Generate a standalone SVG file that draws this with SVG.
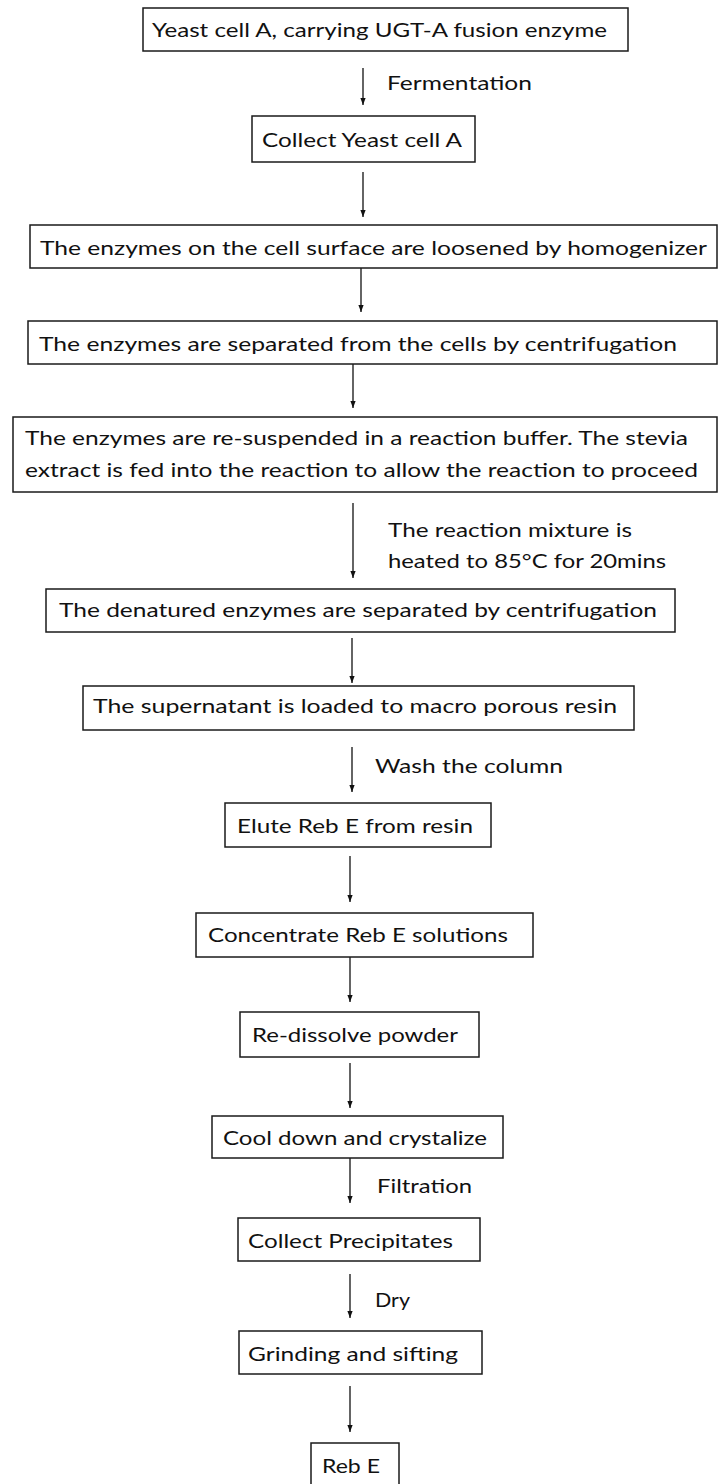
<svg xmlns="http://www.w3.org/2000/svg" width="719" height="1484" viewBox="0 0 719 1484">
<style>
.box{fill:#fff;stroke:#1a1a1a;stroke-width:1.5}
.t{font-family:Lato,"Open Sans",sans-serif;font-size:20px;fill:#111}
.c{stroke:#111;stroke-width:1.3;fill:none;marker-end:url(#ah)}
</style>
<defs>
<marker id="ah" markerUnits="userSpaceOnUse" markerWidth="8" markerHeight="8" viewBox="0 0 8 8" refX="7" refY="4" orient="auto">
<path d="M0,1.4 L7,4 L0,6.6 Z" fill="#111"/>
</marker>
</defs>
<rect width="719" height="1484" fill="#fff"/>
<g id="connectors">
<line class="c" x1="363" y1="68" x2="363" y2="105"/>
<line class="c" x1="363" y1="172" x2="363" y2="217"/>
<line class="c" x1="361" y1="268" x2="361" y2="312"/>
<line class="c" x1="353" y1="364" x2="353" y2="408"/>
<line class="c" x1="353" y1="503" x2="353" y2="578"/>
<line class="c" x1="352" y1="638" x2="352" y2="683"/>
<line class="c" x1="352" y1="747" x2="352" y2="792"/>
<line class="c" x1="350" y1="856" x2="350" y2="902"/>
<line class="c" x1="350" y1="957" x2="350" y2="1002"/>
<line class="c" x1="350" y1="1063" x2="350" y2="1108"/>
<line class="c" x1="350" y1="1158" x2="350" y2="1203"/>
<line class="c" x1="350" y1="1274" x2="350" y2="1318"/>
<line class="c" x1="350" y1="1386" x2="350" y2="1432"/>
<text class="t" x="387" y="90" textLength="145" lengthAdjust="spacingAndGlyphs">Fermentation</text>
<text class="t" x="388" y="537" textLength="244" lengthAdjust="spacingAndGlyphs">The reaction mixture is</text>
<text class="t" x="388" y="568" textLength="278" lengthAdjust="spacingAndGlyphs">heated to 85°C for 20mins</text>
<text class="t" x="375" y="773" textLength="188" lengthAdjust="spacingAndGlyphs">Wash the column</text>
<text class="t" x="377" y="1193" textLength="95" lengthAdjust="spacingAndGlyphs">Filtration</text>
<text class="t" x="375" y="1307" textLength="35" lengthAdjust="spacingAndGlyphs">Dry</text>
</g>
<g id="n1"><rect class="box" x="143" y="8" width="485" height="43"/><text class="t" x="152" y="37" textLength="455" lengthAdjust="spacingAndGlyphs">Yeast cell A, carrying UGT-A fusion enzyme</text></g>
<g id="n2"><rect class="box" x="252" y="116" width="223" height="46"/><text class="t" x="262" y="147" textLength="200" lengthAdjust="spacingAndGlyphs">Collect Yeast cell A</text></g>
<g id="n3"><rect class="box" x="30" y="225" width="687" height="43"/><text class="t" x="40" y="255" textLength="667" lengthAdjust="spacingAndGlyphs">The enzymes on the cell surface are loosened by homogenizer</text></g>
<g id="n4"><rect class="box" x="28" y="321" width="689" height="43"/><text class="t" x="39" y="351" textLength="638" lengthAdjust="spacingAndGlyphs">The enzymes are separated from the cells by centrifugation</text></g>
<g id="n5"><rect class="box" x="13" y="417" width="704" height="75"/><text class="t" x="25" y="445" textLength="663" lengthAdjust="spacingAndGlyphs">The enzymes are re-suspended in a reaction buffer. The stevia</text><text class="t" x="25" y="477" textLength="673" lengthAdjust="spacingAndGlyphs">extract is fed into the reaction to allow the reaction to proceed</text></g>
<g id="n6"><rect class="box" x="46" y="589" width="629" height="43"/><text class="t" x="59" y="617" textLength="598" lengthAdjust="spacingAndGlyphs">The denatured enzymes are separated by centrifugation</text></g>
<g id="n7"><rect class="box" x="83" y="686" width="551" height="44"/><text class="t" x="93" y="713" textLength="524" lengthAdjust="spacingAndGlyphs">The supernatant is loaded to macro porous resin</text></g>
<g id="n8"><rect class="box" x="225" y="803" width="266" height="44"/><text class="t" x="237" y="833" textLength="236" lengthAdjust="spacingAndGlyphs">Elute Reb E from resin</text></g>
<g id="n9"><rect class="box" x="196" y="913" width="337" height="44"/><text class="t" x="208" y="942" textLength="300" lengthAdjust="spacingAndGlyphs">Concentrate Reb E solutions</text></g>
<g id="n10"><rect class="box" x="240" y="1012" width="239" height="45"/><text class="t" x="252" y="1042" textLength="206" lengthAdjust="spacingAndGlyphs">Re-dissolve powder</text></g>
<g id="n11"><rect class="box" x="212" y="1116" width="291" height="42"/><text class="t" x="223" y="1145" textLength="264" lengthAdjust="spacingAndGlyphs">Cool down and crystalize</text></g>
<g id="n12"><rect class="box" x="238" y="1218" width="242" height="43"/><text class="t" x="248" y="1248" textLength="205" lengthAdjust="spacingAndGlyphs">Collect Precipitates</text></g>
<g id="n13"><rect class="box" x="239" y="1331" width="243" height="43"/><text class="t" x="248" y="1361" textLength="210" lengthAdjust="spacingAndGlyphs">Grinding and sifting</text></g>
<g id="n14"><rect class="box" x="311" y="1443" width="88" height="45"/><text class="t" x="322" y="1473" textLength="58" lengthAdjust="spacingAndGlyphs">Reb E</text></g>
</svg>
